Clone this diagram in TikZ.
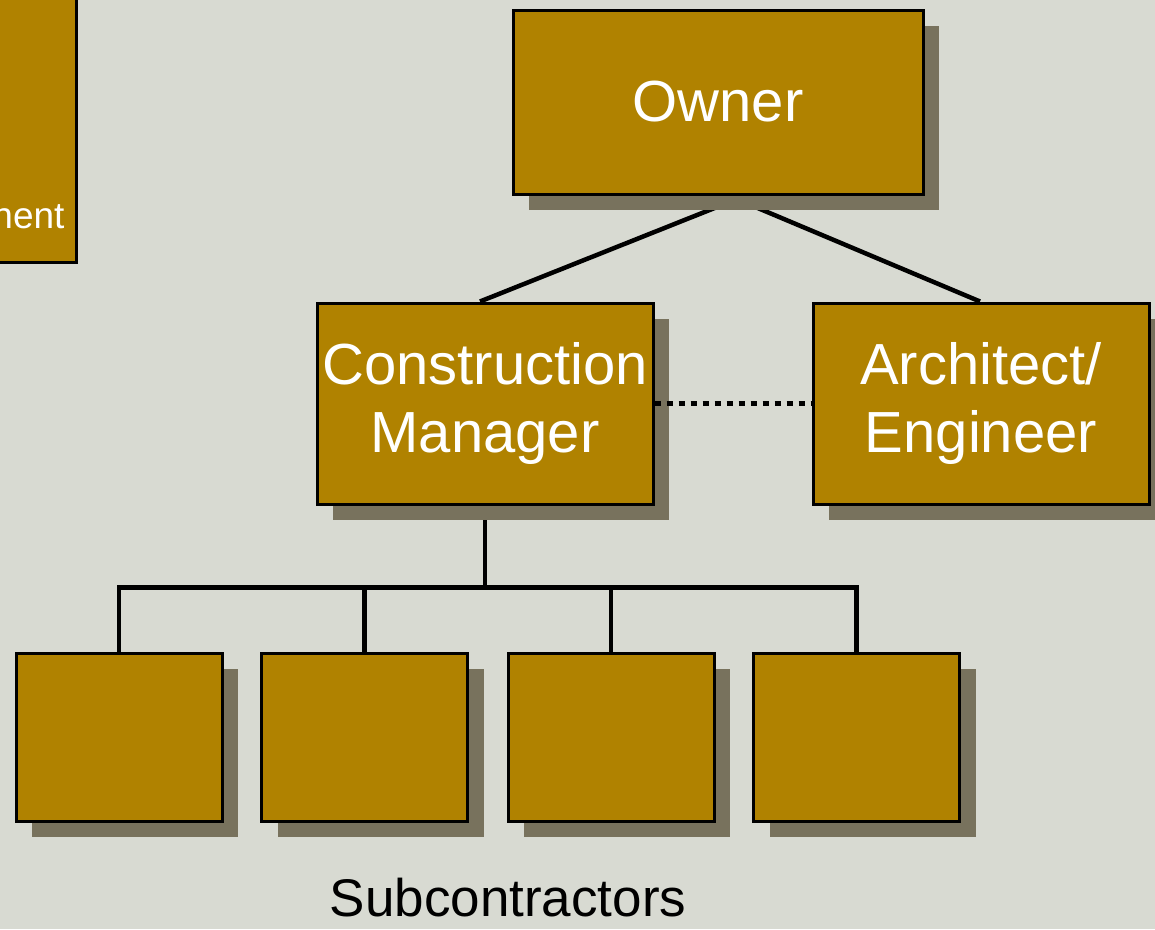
\documentclass[tikz,border=0pt]{standalone}
\usepackage{fontspec}
\setmainfont{Liberation Sans}
\usetikzlibrary{shadows,backgrounds,calc}
\definecolor{bggray}{RGB}{216,218,210}
\definecolor{boxgold}{RGB}{176,130,0}
\definecolor{shadowgray}{RGB}{120,114,93}

\begin{document}
\begin{tikzpicture}[x=1pt,y=-1pt,
  orgbox/.style={rectangle,draw=black,line width=3pt,fill=boxgold,text=white,
    align=center,inner sep=0pt,font=\fontsize{58}{68}\selectfont},
  shadowed/.style={general shadow={fill=shadowgray,shadow xshift=16pt,shadow yshift=-16pt}},
  link/.style={line width=4.5pt}]
  \useasboundingbox (0,0) rectangle (1155,929);
  % partly hidden box on the left
  \node[orgbox,minimum width=200pt,minimum height=300pt,anchor=south east] (mgmt) at (78,264) {};
  \node[text=white,font=\fontsize{37}{44}\selectfont,anchor=base east] (mgmtlbl) at (68,228) {nent};
  % top two levels
  \node[orgbox,shadowed,minimum width=410pt,minimum height=184pt] (owner) at (718,102) {Owner};
  \node[orgbox,shadowed,minimum width=336pt,minimum height=201pt] (cm) at (485,403.5) {Construction\\Manager};
  \node[orgbox,shadowed,minimum width=336pt,minimum height=201pt] (ae) at (981,403.5) {Architect/\\Engineer};
  % subcontractors
  \node[orgbox,shadowed,minimum width=206pt,minimum height=168pt] (s1) at (119,737) {};
  \node[orgbox,shadowed,minimum width=206pt,minimum height=168pt] (s2) at (364.5,737) {};
  \node[orgbox,shadowed,minimum width=206pt,minimum height=168pt] (s3) at (611,737) {};
  \node[orgbox,shadowed,minimum width=206pt,minimum height=168pt] (s4) at (856.5,737) {};
  \node[font=\fontsize{53}{60}\selectfont,anchor=base] (sublbl) at (508,916) {Subcontractors};
  \draw[line width=5pt,dash pattern=on 6pt off 6pt] (cm.east) -- (ae.west);
  \begin{scope}[on background layer]
    \fill[bggray] (0,0) rectangle (1155,929);
    \draw[link] ($(owner.south)+(28,0)$) -- ($(cm.north)+(-5,0)$);
    \draw[link] ($(owner.south)+(10,0)$) -- ($(ae.north)+(-1,0)$);
    \draw[link] (cm.south) -- ++(0,82) coordinate (hub);
    \draw[link] (s1.north) -- (s1.north |- hub) -- (s4.north |- hub) -- (s4.north);
    \draw[link] (s2.north) -- (s2.north |- hub);
    \draw[link] (s3.north) -- (s3.north |- hub);
  \end{scope}
\end{tikzpicture}
\end{document}
